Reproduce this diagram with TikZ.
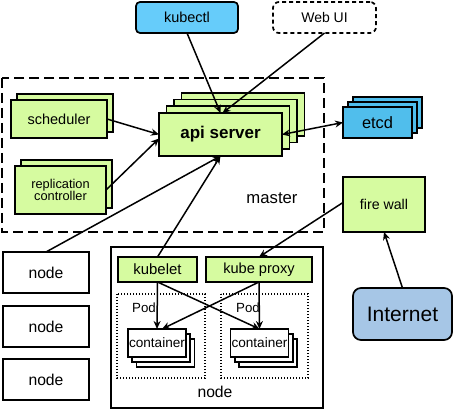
\documentclass[tikz,border=0pt]{standalone}
\usepackage{fontspec}
\setmainfont{Liberation Sans}
\usetikzlibrary{arrows.meta}

\definecolor{kgreen}{RGB}{214,251,160}
\definecolor{kcyan}{RGB}{102,204,250}
\definecolor{kblue}{RGB}{80,190,236}
\definecolor{knet}{RGB}{166,198,230}

\begin{document}
\begin{tikzpicture}[x=1pt,y=-1pt,line width=1.7pt,
  box/.style={draw,fill=white,outer sep=0pt,inner sep=1pt},
  gbox/.style={box,fill=kgreen},
  arr/.style={line width=1.5pt,-{Stealth[length=8pt,width=7pt]}},
  txt/.style={font=\fontsize{#1}{#1}\selectfont}]
\useasboundingbox (0,0) rectangle (453,414);

% master (dashed).
\draw[dash pattern=on 10pt off 5pt] (2,78) rectangle (324,232);
\node[txt=16.7] (master) at (272,198) {master};

% clients on top.
\node[box,fill=kcyan,rounded corners=4pt,minimum width=102pt,minimum height=31pt,txt=14.5] (kubectl) at (187,17.5) {kubectl};
\node[box,rounded corners=6pt,dash pattern=on 4pt off 3pt,minimum width=103pt,minimum height=31pt,txt=14] (webui) at (324.5,17.5) {Web UI};

% scheduler, replication controller.
\node[gbox,minimum width=96pt,minimum height=38pt] (sched2) at (65,113) {};
\node[gbox,minimum width=96pt,minimum height=38pt,txt=14.5] (sched) at (59,119) {scheduler};
\node[gbox,minimum width=91pt,minimum height=48pt] (repl2) at (66.5,184) {};
\node[gbox,minimum width=91pt,minimum height=48pt,align=center,txt=12.8] (repl) at (60.5,190) {replication\\[-0.5pt]controller};

% api server stack.
\foreach \k in {3,2,1}
  \node[gbox,minimum width=123pt,minimum height=43pt] (api\k) at ({220.5+7.5*\k},{134.5-6.7*\k}) {};
\node[gbox,minimum width=123pt,minimum height=43pt,font=\bfseries\fontsize{17}{17}\selectfont] (api) at (220.5,134.5) {api server};

% etcd stack.
\foreach \k in {2,1}
  \node[box,fill=kblue,minimum width=69pt,minimum height=31pt] (etcd\k) at ({377.5+5*\k},{122.5-5*\k}) {};
\node[box,fill=kblue,minimum width=69pt,minimum height=31pt,txt=16.4] (etcd) at (377.5,122.5) {etcd};

% fire wall, internet.
\node[gbox,minimum width=82pt,minimum height=55pt,txt=14.2] (fw) at (384,204.5) {fire wall};
\node[box,fill=knet,rounded corners=8pt,minimum width=99pt,minimum height=52pt,txt=21] (net) at (402.5,314) {Internet};

% other nodes.
\node[box,minimum width=86pt,minimum height=41pt,txt=15.7] (node1) at (46,272.5) {node};
\node[box,minimum width=86pt,minimum height=41pt,txt=15.7] (node2) at (46,326.5) {node};
\node[box,minimum width=86pt,minimum height=41pt,txt=15.7] (node3) at (46,379.5) {node};

% the big node.
\draw (111,247) rectangle (323,408);
\node[txt=15.7] (nodelbl) at (215,392) {node};
\node[gbox,minimum width=79pt,minimum height=25pt,txt=14.9] (kubelet) at (157.5,269.5) {kubelet};
\node[gbox,minimum width=106pt,minimum height=25pt,txt=14.6] (proxy) at (259,269.5) {kube proxy};

% pods.
\draw[line width=1.2pt,dash pattern=on 1.3pt off 1.7pt] (117,294) rectangle (205,378);
\draw[line width=1.2pt,dash pattern=on 1.3pt off 1.7pt] (221,294) rectangle (308,378);
\node[txt=13.3] (podL) at (144,308) {Pod};
\node[txt=13.3] (podR) at (248,308) {Pod};

\foreach \k in {2,1} {
  \node[box,minimum width=58pt,minimum height=28pt] (contL\k) at ({157+4.3*\k},{343+5*\k}) {};
  \node[box,minimum width=58pt,minimum height=28pt] (contR\k) at ({259.5+4.3*\k},{343+5*\k}) {};
}
\node[box,minimum width=58pt,minimum height=28pt,inner sep=0pt,txt=13.6] (contL) at (157,343) {container};
\node[box,minimum width=58pt,minimum height=28pt,inner sep=0pt,txt=13.6] (contR) at (259.5,343) {container};

% connectors.
\draw[arr] (kubectl.south) -- (api.north);
\draw[arr] (webui.south) -- ([xshift=2pt]api.north);
\draw[arr] (sched.east) -- (api.west);
\draw[arr] (repl.east) -- ([yshift=-4pt]api.west);
\draw[arr] (node1.north) -- (api.south);
\draw[arr] (kubelet.north) -- (api.south);
\draw[arr,{Stealth[length=8pt,width=7pt]}-{Stealth[length=8pt,width=7pt]}] (api.east) -- (etcd.west);
\draw[arr] ([yshift=2pt]fw.west) -- (proxy.north);
\draw[arr] (net.north) -- (fw.south);
\draw[arr] (kubelet.south) -- (contL.north);
\draw[arr] (kubelet.south) -- (contR.north);
\draw[arr] (proxy.south) -- (contR.north);
\draw[arr] (proxy.south) -- ([xshift=5pt]contL.north);

\end{tikzpicture}
\end{document}
